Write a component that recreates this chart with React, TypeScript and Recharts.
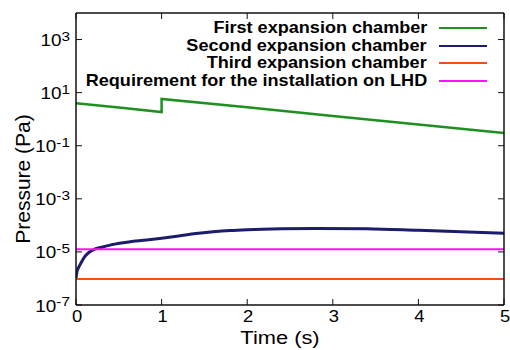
import React from 'react';
import { LineChart, Line, XAxis, YAxis, Label } from 'recharts';

const FONT = '"Liberation Sans", Arial, Helvetica, sans-serif';

const timeTicks = [0, 1, 2, 3, 4, 5];
const timeDomain = [0, 5];
const pressureTicks = [1e-7, 1e-5, 1e-3, 1e-1, 1e1, 1e3];
const pressureDomain = [1e-7, 1e4];

const seriesNames = [
  'First expansion chamber',
  'Second expansion chamber',
  'Third expansion chamber',
  'Requirement for the installation on LHD',
];
const seriesColors = ['#1f8f1f', '#1c1c6c', '#ff4a10', '#ff10ff'];
const seriesWidths = [2.5, 3, 2, 2];
const seriesCurves = ['linear', 'monotone', 'linear', 'linear'];

const firstTime = [0, 0.5, 1, 1, 2, 3, 4, 5];
const firstPressure = [4.0, 2.75, 1.86, 5.8, 2.8, 1.32, 0.63, 0.3];

const secondTime = [0, 0.01, 0.025, 0.05, 0.1, 0.15, 0.2, 0.3, 0.4, 0.55, 0.7, 0.85, 1.0, 1.2, 1.4, 1.6, 1.8, 2.0, 2.4, 2.8, 3.4, 4.0, 4.5, 5.0];
const secondPressure = [1e-6, 1.7e-6, 2.4e-6, 3.4e-6, 6.5e-6, 9.5e-6, 1.2e-5, 1.5e-5, 1.8e-5, 2.2e-5, 2.6e-5, 2.9e-5, 3.3e-5, 4.0e-5, 4.9e-5, 5.7e-5, 6.4e-5, 6.9e-5, 7.5e-5, 7.7e-5, 7.4e-5, 6.5e-5, 5.8e-5, 5.1e-5];

const thirdTime = [0, 5];
const thirdPressure = [9.5e-7, 9.5e-7];

const reqTime = [0, 5];
const reqPressure = [1.26e-5, 1.26e-5];

const rows = (t: number[], p: number[]) => t.map((x, i) => ({ t: x, p: p[i] }));
const seriesData = [
  rows(firstTime, firstPressure),
  rows(secondTime, secondPressure),
  rows(thirdTime, thirdPressure),
  rows(reqTime, reqPressure),
];

const PowTick = (props: any) => {
  const { x, y, payload } = props;
  const exp = Math.round(Math.log10(payload.value));
  return (
    <g transform={`translate(${x},${y}) scale(1.18,1)`}>
      <text x={0} y={6.5} textAnchor="end" fontFamily={FONT} fontSize={16} fill="#000">
        10<tspan dy={-5.5} fontSize={13}>{String(exp)}</tspan>
      </text>
    </g>
  );
};

const TimeTick = (props: any) => {
  const { x, y, payload } = props;
  return (
    <g transform={`translate(${x + 1},${y}) scale(1.15,1)`}>
      <text x={0} y={11} textAnchor="middle" fontFamily={FONT} fontSize={16} fill="#000">
        {String(payload.value)}
      </text>
    </g>
  );
};

const LegendBox = () => (
  <div style={{ position: 'absolute', top: 19, right: 23, fontFamily: FONT, fontWeight: 'bold', fontSize: 16, color: '#000', pointerEvents: 'none' }}>
    {seriesNames.map((name, i) => (
      <div key={name} style={{ display: 'flex', alignItems: 'center', justifyContent: 'flex-end', height: 17.7 }}>
        <span style={{ display: 'inline-block', whiteSpace: 'nowrap', transform: 'scale(1.13,1.03)', transformOrigin: 'right center', lineHeight: '17.7px' }}>{name}</span>
        <svg width={60} height={4} style={{ display: 'block' }}>
          <line x1={12} x2={60} y1={2} y2={2} stroke={seriesColors[i]} strokeWidth={2} />
        </svg>
      </div>
    ))}
  </div>
);

const XTitle = (props: any) => {
  const vb = props.viewBox;
  return (
    <g transform={`translate(${vb.x + vb.width / 2 - 10},${vb.y + 39}) scale(1.15,1)`}>
      <text x={0} y={0} textAnchor="middle" fontFamily={FONT} fontSize={19} fill="#000">Time (s)</text>
    </g>
  );
};

const YTitle = (props: any) => {
  const vb = props.viewBox;
  const cx = vb.x + 20;
  const cy = vb.y + vb.height / 2 + 20;
  return (
    <text x={cx} y={cy} transform={`rotate(-90,${cx},${cy})`} textAnchor="middle" fontFamily={FONT} fontSize={21} fill="#000">
      Pressure (Pa)
    </text>
  );
};

const axisLine = { stroke: '#111', strokeWidth: 1.5 };
const tickLine = { stroke: '#111', strokeWidth: 1 };

export default function App() {
  return (
    <div style={{ position: 'absolute', left: 0, top: 0, width: 510, height: 350, background: '#fff' }}>
      <LineChart width={510} height={350} margin={{ top: 12, right: 5, bottom: 0, left: 10 }}>
        <XAxis
          dataKey="t"
          type="number"
          domain={timeDomain}
          ticks={timeTicks}
          allowDataOverflow
          height={45}
          tickSize={-6}
          tickMargin={12}
          axisLine={axisLine}
          tickLine={tickLine}
          tick={<TimeTick />}
        >
          <Label content={<XTitle />} />
        </XAxis>
        <XAxis
          xAxisId="top"
          orientation="top"
          dataKey="t"
          type="number"
          domain={timeDomain}
          ticks={timeTicks}
          allowDataOverflow
          height={1}
          tickSize={-6}
          axisLine={axisLine}
          tickLine={tickLine}
          tickFormatter={() => ''}
        />
        <YAxis
          type="number"
          scale="log"
          domain={pressureDomain}
          ticks={pressureTicks}
          allowDataOverflow
          width={66}
          tickSize={-6}
          tickMargin={12}
          axisLine={axisLine}
          tickLine={tickLine}
          tick={<PowTick />}
        >
          <Label content={<YTitle />} />
        </YAxis>
        <YAxis
          yAxisId="r"
          orientation="right"
          type="number"
          scale="log"
          domain={pressureDomain}
          ticks={pressureTicks}
          allowDataOverflow
          width={1}
          tickSize={-6}
          axisLine={axisLine}
          tickLine={tickLine}
          tickFormatter={() => ''}
        />
        {seriesData.map((d, i) => (
          <Line
            key={seriesNames[i]}
            data={d}
            dataKey="p"
            name={seriesNames[i]}
            type={seriesCurves[i] as any}
            stroke={seriesColors[i]}
            strokeWidth={seriesWidths[i]}
            dot={false}
            activeDot={false}
            isAnimationActive={false}
          />
        ))}
      </LineChart>
      <LegendBox />
    </div>
  );
}
